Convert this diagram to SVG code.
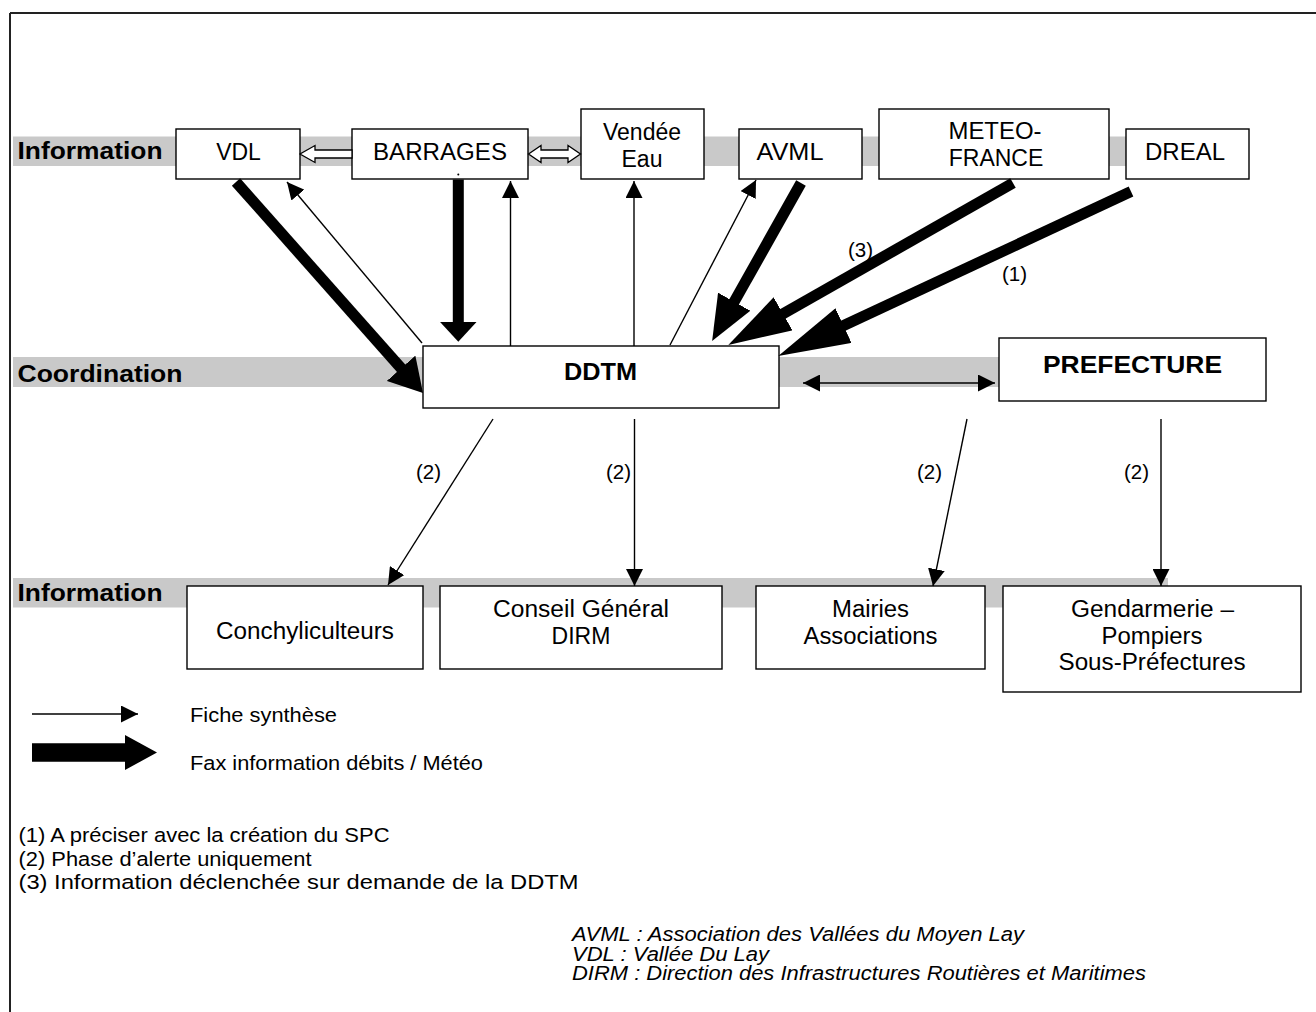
<svg xmlns="http://www.w3.org/2000/svg" width="1316" height="1012" viewBox="0 0 1316 1012">
<defs>
<style>
.box{fill:#fff;stroke:#000;stroke-width:1.4}
.band{fill:#c9c9c9}
.t{font-family:"Liberation Sans",Arial,sans-serif;font-size:23px;fill:#000;text-anchor:middle}
.b{font-family:"Liberation Sans",Arial,sans-serif;font-size:24px;font-weight:bold;fill:#000}
.s{font-family:"Liberation Sans",Arial,sans-serif;font-size:20.5px;fill:#000}
.i{font-family:"Liberation Sans",Arial,sans-serif;font-size:20px;font-style:italic;fill:#000}
.thin{stroke:#000;stroke-width:1.4;fill:none}
.thick{stroke:#000;stroke-width:11;fill:none;stroke-linecap:butt}
.hollow{fill:#fff;stroke:#000;stroke-width:1.3}
</style>
<marker id="ah" markerUnits="userSpaceOnUse" markerWidth="17" markerHeight="17" viewBox="0 0 17 17" refX="17" refY="8.5" orient="auto-start-reverse"><path d="M0,0 L17,8.5 L0,17 z" fill="#000"/></marker>
<marker id="h20" markerUnits="userSpaceOnUse" markerWidth="20" markerHeight="37" viewBox="0 0 20 37" refX="1" refY="18.5" orient="auto"><path d="M0,0 L20,18.5 L0,37 z" fill="#000"/></marker>
<marker id="h33" markerUnits="userSpaceOnUse" markerWidth="33" markerHeight="38" viewBox="0 0 33 38" refX="1" refY="19" orient="auto"><path d="M0,0 L33,19 L0,38 z" fill="#000"/></marker>
<marker id="h45" markerUnits="userSpaceOnUse" markerWidth="45" markerHeight="37" viewBox="0 0 45 37" refX="1" refY="18.5" orient="auto"><path d="M0,0 L45,18.5 L0,37 z" fill="#000"/></marker>
<marker id="h63" markerUnits="userSpaceOnUse" markerWidth="63" markerHeight="38" viewBox="0 0 63 38" refX="1" refY="19" orient="auto"><path d="M0,0 L63,19 L0,38 z" fill="#000"/></marker>
<marker id="h72" markerUnits="userSpaceOnUse" markerWidth="72" markerHeight="38" viewBox="0 0 72 38" refX="1" refY="19" orient="auto"><path d="M0,0 L72,19 L0,38 z" fill="#000"/></marker>
</defs>
<rect x="0" y="0" width="1316" height="1012" fill="#fff"/>
<g id="frame">
<line x1="10" y1="13" x2="1316" y2="13" stroke="#222" stroke-width="2"/>
<line x1="10" y1="13" x2="10" y2="1012" stroke="#222" stroke-width="2"/>
</g>
<g id="bands">
<rect class="band" x="13" y="136.5" width="1230" height="29.5"/>
<rect class="band" x="13" y="357" width="990" height="30"/>
<rect class="band" x="13" y="578" width="1155" height="29.5"/>
<text class="b" x="17.5" y="159" textLength="145" lengthAdjust="spacingAndGlyphs">Information</text>
<text class="b" x="17.5" y="381.5" textLength="165" lengthAdjust="spacingAndGlyphs">Coordination</text>
<text class="b" x="17.5" y="600.5" textLength="145" lengthAdjust="spacingAndGlyphs">Information</text>
</g>
<g id="node-vdl"><rect class="box" x="176" y="129" width="124" height="50"/><text class="t" x="238.5" y="160">VDL</text></g>
<g id="node-barrages"><rect class="box" x="352" y="129" width="176" height="50"/><text class="t" x="440" y="160" textLength="134" lengthAdjust="spacingAndGlyphs">BARRAGES</text><circle cx="458.3" cy="174.5" r="1" fill="#000"/></g>
<g id="node-vendee"><rect class="box" x="581" y="109" width="123" height="70"/><text class="t" x="642" y="140">Vendée</text><text class="t" x="642" y="167">Eau</text></g>
<g id="node-avml"><rect class="box" x="739" y="129" width="123" height="50"/><text class="t" x="790" y="160" textLength="67" lengthAdjust="spacingAndGlyphs">AVML</text></g>
<g id="node-meteo"><rect class="box" x="879" y="109" width="230" height="70"/><text class="t" x="995" y="139" textLength="93" lengthAdjust="spacingAndGlyphs">METEO-</text><text class="t" x="996" y="166">FRANCE</text></g>
<g id="node-dreal"><rect class="box" x="1126" y="129" width="123" height="50"/><text class="t" x="1185" y="160" textLength="80" lengthAdjust="spacingAndGlyphs">DREAL</text></g>
<g id="node-ddtm"><rect class="box" x="423" y="346" width="356" height="62"/><text class="b" x="600.5" y="380" text-anchor="middle" textLength="73" lengthAdjust="spacingAndGlyphs">DDTM</text></g>
<g id="node-prefecture"><rect class="box" x="999" y="338" width="267" height="63"/><text class="b" x="1132.5" y="372.5" text-anchor="middle" textLength="179" lengthAdjust="spacingAndGlyphs">PREFECTURE</text></g>
<g id="node-conch"><rect class="box" x="187" y="586" width="236" height="83"/><text class="t" x="305" y="639" textLength="178" lengthAdjust="spacingAndGlyphs">Conchyliculteurs</text></g>
<g id="node-conseil"><rect class="box" x="440" y="586" width="282" height="83"/><text class="t" x="581" y="617" textLength="176" lengthAdjust="spacingAndGlyphs">Conseil Général</text><text class="t" x="581" y="644">DIRM</text></g>
<g id="node-mairies"><rect class="box" x="756" y="586" width="229" height="83"/><text class="t" x="870.5" y="617" textLength="77" lengthAdjust="spacingAndGlyphs">Mairies</text><text class="t" x="870.5" y="644" textLength="134" lengthAdjust="spacingAndGlyphs">Associations</text></g>
<g id="node-gendarmerie"><rect class="box" x="1003" y="586" width="298" height="106"/><text class="t" x="1152.5" y="617" textLength="163" lengthAdjust="spacingAndGlyphs">Gendarmerie –</text><text class="t" x="1152" y="643.5" textLength="101" lengthAdjust="spacingAndGlyphs">Pompiers</text><text class="t" x="1152" y="669.5" textLength="187" lengthAdjust="spacingAndGlyphs">Sous-Préfectures</text></g>
<g id="connectors">
<polygon class="hollow" points="352,150 315,150 315,145.5 300,154 315,162.5 315,158 352,158"/>
<polygon class="hollow" points="528.5,154 541,145.5 541,150 568,150 568,145.5 580.5,154 568,162.5 568,158 541,158 541,162.5"/>
<line class="thick" x1="236" y1="182" x2="401.8" y2="369" marker-end="url(#h33)"/>
<line class="thick" x1="458.3" y1="179.5" x2="458.3" y2="322.7" marker-end="url(#h20)"/>
<line class="thick" x1="801" y1="183" x2="733.7" y2="302.6" marker-end="url(#h45)"/>
<line class="thick" x1="1013" y1="183" x2="782.2" y2="314.3" marker-end="url(#h63)"/>
<line class="thick" x1="1131" y1="191.5" x2="842.6" y2="326" marker-end="url(#h72)"/>
<line class="thin" x1="422" y1="343" x2="287" y2="182" marker-end="url(#ah)"/>
<line class="thin" x1="510.5" y1="346" x2="510.5" y2="181" marker-end="url(#ah)"/>
<line class="thin" x1="634" y1="346" x2="634" y2="181" marker-end="url(#ah)"/>
<line class="thin" x1="670" y1="345" x2="756" y2="180" marker-end="url(#ah)"/>
<line class="thin" x1="803" y1="383" x2="995" y2="383" marker-start="url(#ah)" marker-end="url(#ah)"/>
<line class="thin" x1="493" y1="419" x2="388" y2="585" marker-end="url(#ah)"/>
<line class="thin" x1="634.5" y1="419" x2="634.5" y2="586" marker-end="url(#ah)"/>
<line class="thin" x1="967" y1="419" x2="933" y2="586" marker-end="url(#ah)"/>
<line class="thin" x1="1161" y1="419" x2="1161" y2="586" marker-end="url(#ah)"/>
<text class="s" x="848" y="257">(3)</text>
<text class="s" x="1002" y="281">(1)</text>
<text class="s" x="416" y="479">(2)</text>
<text class="s" x="606" y="479">(2)</text>
<text class="s" x="917" y="479">(2)</text>
<text class="s" x="1124" y="479">(2)</text>
</g>
<g id="legend">
<line class="thin" x1="32" y1="714" x2="138" y2="714" marker-end="url(#ah)"/>
<polygon points="32,743.3 125,743.3 125,735 157,752.5 125,770 125,761.7 32,761.7" fill="#000"/>
<text class="s" x="190" y="722" textLength="147" lengthAdjust="spacingAndGlyphs">Fiche synthèse</text>
<text class="s" x="190" y="770" textLength="293" lengthAdjust="spacingAndGlyphs">Fax information débits / Météo</text>
<text class="s" x="18.5" y="842" textLength="371" lengthAdjust="spacingAndGlyphs">(1) A préciser avec la création du SPC</text>
<text class="s" x="18.5" y="865.5" textLength="293" lengthAdjust="spacingAndGlyphs">(2) Phase d’alerte uniquement</text>
<text class="s" x="18.5" y="889" textLength="560" lengthAdjust="spacingAndGlyphs">(3) Information déclenchée sur demande de la DDTM</text>
<text class="i" x="572" y="941" textLength="452" lengthAdjust="spacingAndGlyphs">AVML : Association des Vallées du Moyen Lay</text>
<text class="i" x="572" y="960.5" textLength="197" lengthAdjust="spacingAndGlyphs">VDL : Vallée Du Lay</text>
<text class="i" x="572" y="980" textLength="574" lengthAdjust="spacingAndGlyphs">DIRM : Direction des Infrastructures Routières et Maritimes</text>
</g>
</svg>
